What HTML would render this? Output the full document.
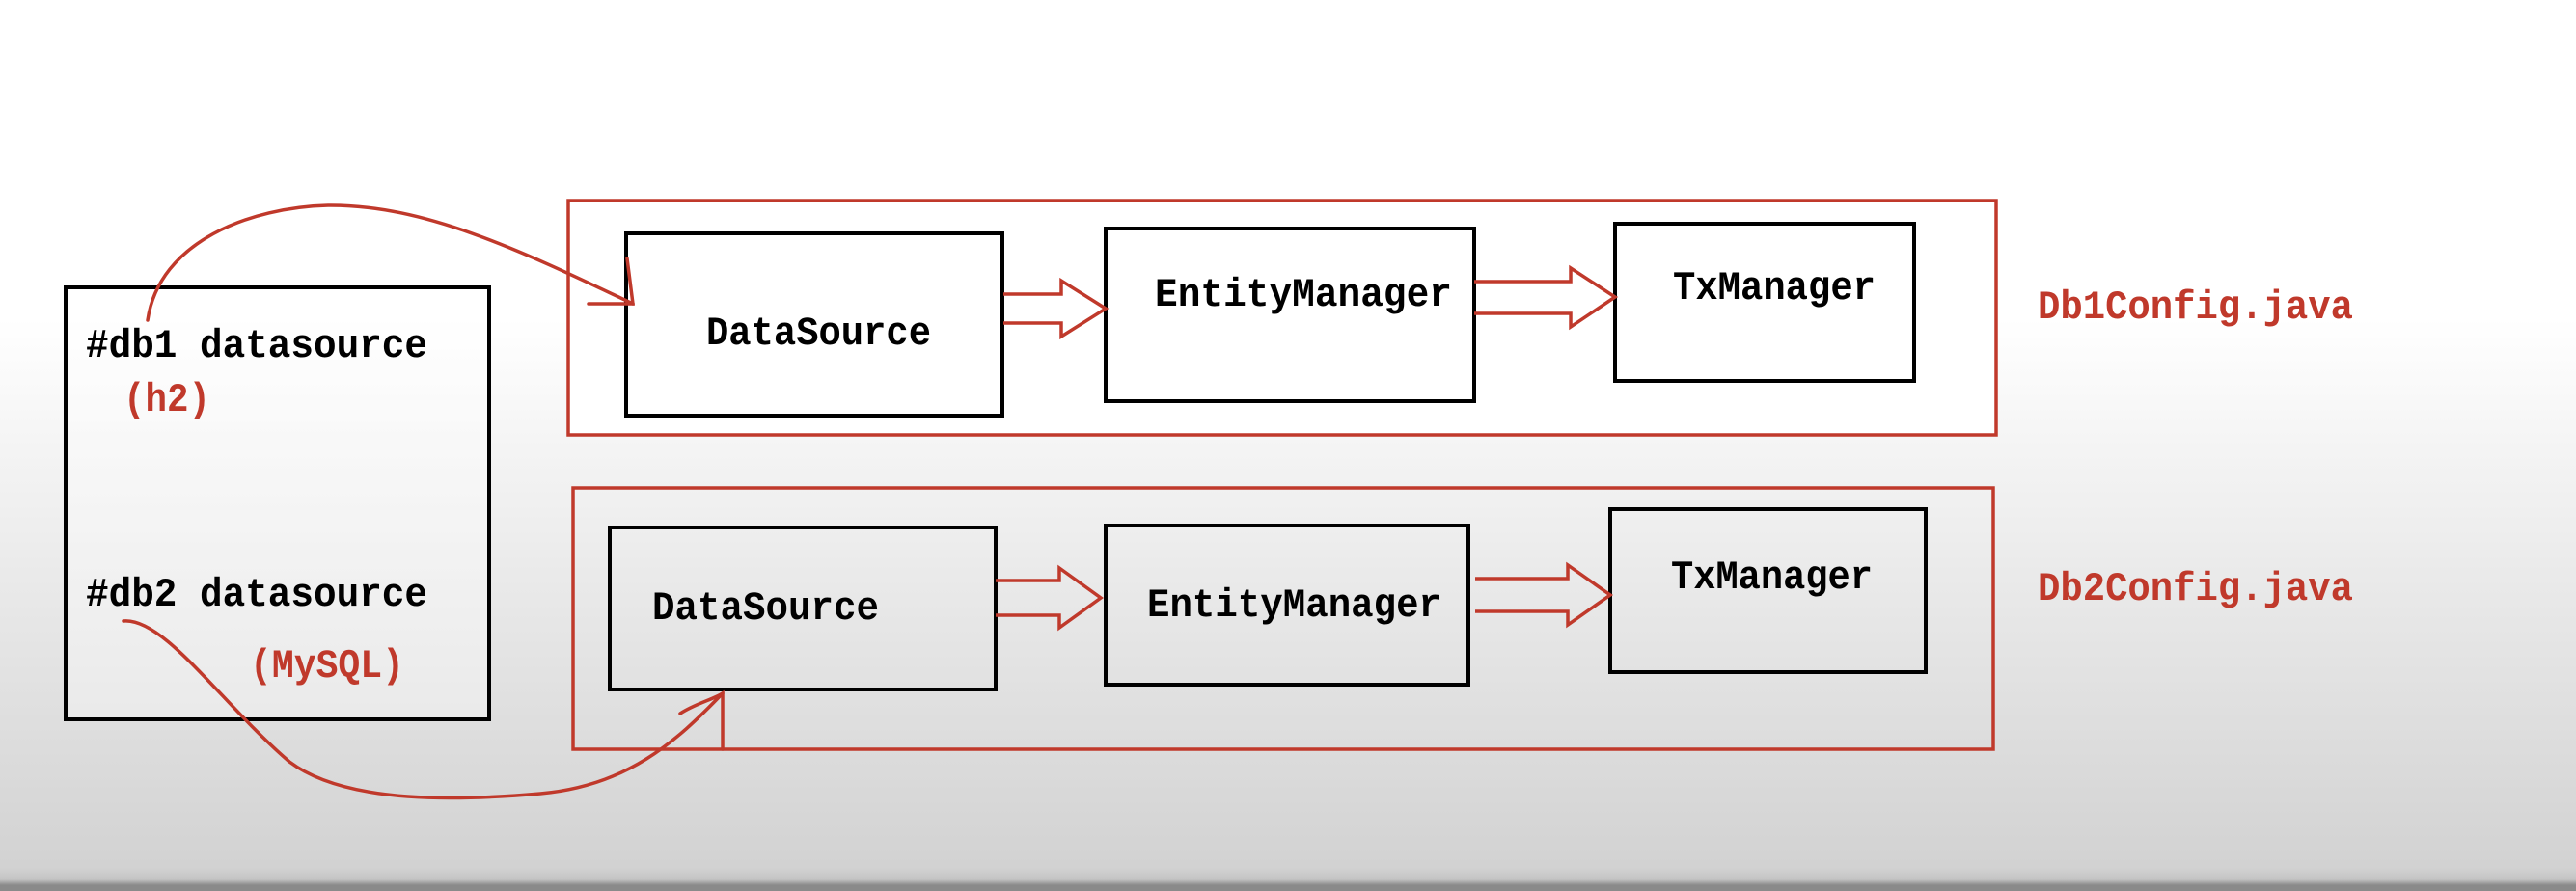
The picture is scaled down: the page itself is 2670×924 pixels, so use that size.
<!DOCTYPE html>
<html><head><meta charset="utf-8"><style>
html,body{margin:0;padding:0;width:2670px;height:924px;overflow:hidden}
body{background:linear-gradient(to bottom,#ffffff 0px,#ffffff 330px,#f3f3f3 480px,#e2e2e2 700px,#d2d2d2 900px,#c4c4c4 912px,#8a8a8a 918px,#8a8a8a 924px)}
svg{position:absolute;left:0;top:0}
text{font-family:"Liberation Mono",monospace;font-weight:bold;font-size:42px}
</style></head><body>
<svg width="2670" height="924" viewBox="0 0 2670 924">
<g fill="none" stroke="#c0392b" stroke-width="3.5">
<rect x="589" y="208" width="1480" height="243" fill="#fff"/>
<rect x="594" y="506" width="1472" height="271" fill="none"/>
</g>
<g fill="none" stroke="#000" stroke-width="4">
<rect x="68" y="298" width="439" height="448" fill="rgba(255,255,255,0.35)"/>
<rect x="649" y="242" width="390" height="189" fill="#fff"/>
<rect x="1146" y="237" width="382" height="179" fill="#fff"/>
<rect x="1674" y="232" width="310" height="163" fill="#fff"/>
<rect x="632" y="547" width="400" height="168"/>
<rect x="1146" y="545" width="376" height="165"/>
<rect x="1669" y="528" width="327" height="169"/>
</g>
<g fill="none" stroke="#c0392b" stroke-width="3.5" stroke-linejoin="miter">
<path d="M1040,305 H1100 V291 L1146,320 L1100,349 V335 H1040"/>
<path d="M1528,292 H1628 V278 L1674,308 L1628,339 V325 H1528"/>
<path d="M1032,602 H1098 V589 L1141,620 L1098,651 V638 H1032"/>
<path d="M1529,600 H1625 V586 L1669,617 L1625,648 V634 H1529"/>
</g>
<g fill="none" stroke="#c0392b" stroke-width="3.5" stroke-linecap="round">
<path d="M153,332 C165,250 260,215 340,213 C440,212 540,260 656,315"/>
<path d="M610,315 H656 L650,268"/>
<path d="M128,644 C170,640 230,730 300,790 C360,835 480,830 560,823 C650,815 700,770 749,719"/>
<path d="M705,740 C720,730 740,725 749,719 L749,777"/>
</g>
<g fill="#000">
<text x="89" y="370" textLength="354" lengthAdjust="spacingAndGlyphs">#db1 datasource</text>
<text x="89" y="628" textLength="354" lengthAdjust="spacingAndGlyphs">#db2 datasource</text>
<text x="732" y="357" textLength="233" lengthAdjust="spacingAndGlyphs">DataSource</text>
<text x="1197" y="317" textLength="308" lengthAdjust="spacingAndGlyphs">EntityManager</text>
<text x="1734" y="310" textLength="210" lengthAdjust="spacingAndGlyphs">TxManager</text>
<text x="676" y="642" textLength="235" lengthAdjust="spacingAndGlyphs">DataSource</text>
<text x="1189" y="639" textLength="305" lengthAdjust="spacingAndGlyphs">EntityManager</text>
<text x="1732" y="610" textLength="209" lengthAdjust="spacingAndGlyphs">TxManager</text>
</g>
<g fill="#c0392b">
<text x="128" y="426" textLength="90" lengthAdjust="spacingAndGlyphs">(h2)</text>
<text x="259" y="702" textLength="160" lengthAdjust="spacingAndGlyphs">(MySQL)</text>
<text x="2112" y="330" textLength="327" lengthAdjust="spacingAndGlyphs">Db1Config.java</text>
<text x="2112" y="622" textLength="327" lengthAdjust="spacingAndGlyphs">Db2Config.java</text>
</g>
</svg>
</body></html>
